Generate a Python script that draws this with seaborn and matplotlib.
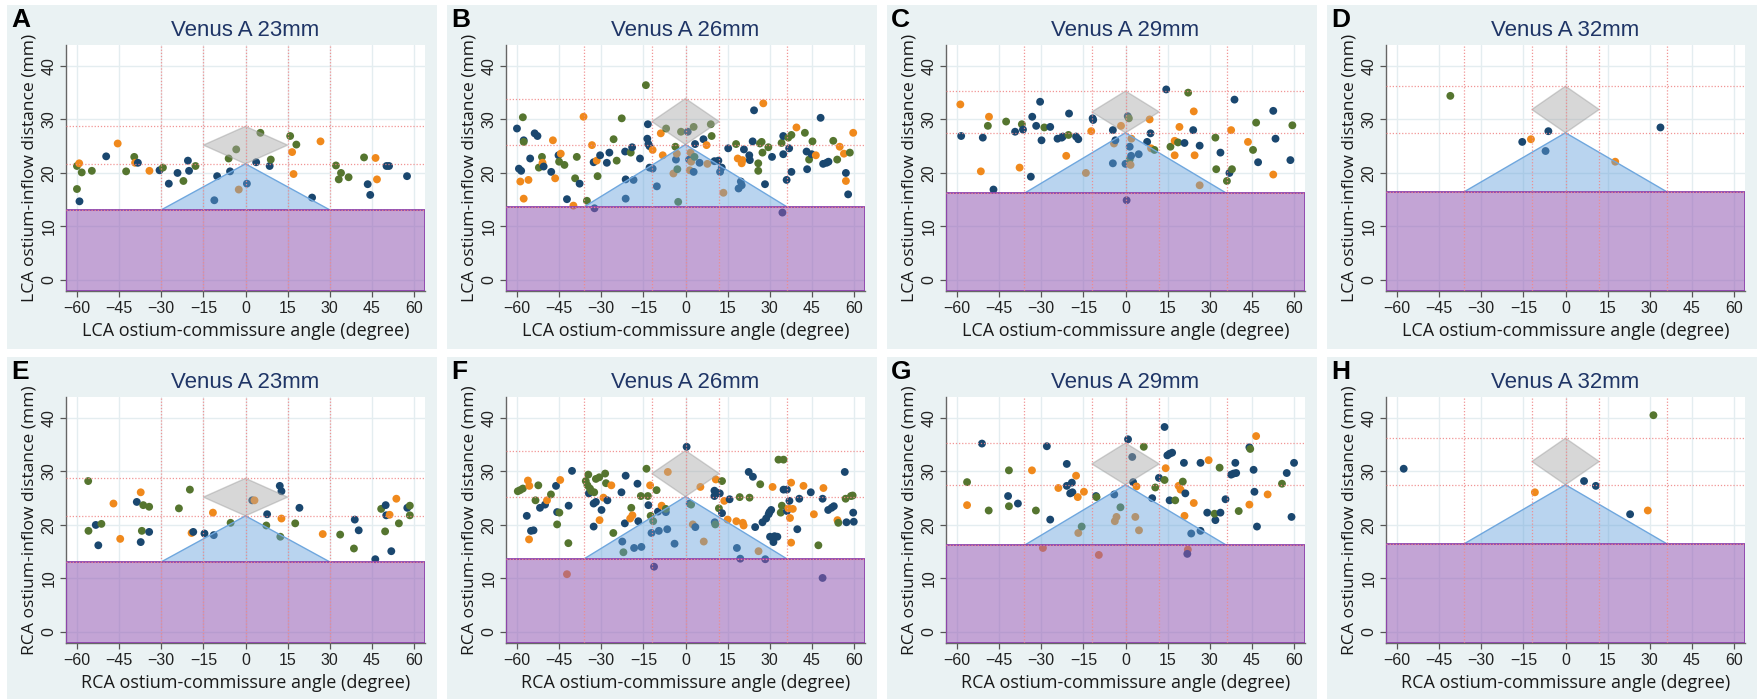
import matplotlib
matplotlib.use("Agg")
import matplotlib.pyplot as plt
from matplotlib.patches import Rectangle
import seaborn as sns
import pandas as pd

# Device geometry per Venus A size (threshold heights in mm, angles in degree)
sizes = ['23mm', '26mm', '29mm', '32mm']
base_h = [13.1, 13.7, 16.2, 16.5]
apex_h = [21.7, 25.3, 27.5, 27.5]
top_h = [28.7, 33.9, 35.3, 36.2]
outer_deg = [30, 36, 36, 36]
inner_deg = [15, 12, 12, 12]

# point groups: n = navy, o = orange, g = green
palette = {'n': '#1a476f', 'o': '#f0891c', 'g': '#55752f'}

# ---- LCA panels ----
A_x = [-60, -60, -59.2, -59.1, -58.3, -54.7, -49.6, -45.5, -42.5, -39.6, -39.3, -38.3, -34.2, -30.6, -29.4,
       -27.3, -24.2, -22.1, -20.5, -20.1, -17.8, -11.1, -10.1, -6.0, -5.5, -3.3, -2.4, 0.5, 3.8, 5.3, 8.6, 9.0,
       15.9, 16.6, 17.1, 18.1, 23.7, 26.7, 32.2, 33.2, 34.0, 36.7, 42.2, 43.5, 44.4, 46.3, 46.8, 50.2, 51.1, 57.5]
A_y = [17.0, 21.3, 21.8, 14.7, 20.1, 20.4, 23.1, 25.5, 20.3, 23.0, 21.9, 21.9, 20.4, 20.5, 21.0, 18.0, 20.0,
       18.5, 22.3, 20.4, 21.3, 14.9, 19.4, 22.7, 20.3, 24.4, 16.9, 18.0, 22.0, 27.5, 21.3, 22.5, 26.9, 23.9,
       19.8, 25.3, 15.4, 25.9, 21.4, 18.8, 20.0, 19.2, 22.9, 17.9, 15.9, 22.8, 18.8, 21.3, 21.3, 19.4]
A_c = "ggong gnogg onong nngnn gnngn gonng nggoo gnogg gggnn oonnn"

B_x = [-60, -57.9, -59.3, -58.5, -58.8, -57.6, -57.6, -57.6, -55.9, -55.3, -53.7, -52.7, -52.2, -51.1, -50.9,
       -50.5, -47.8, -47.2, -46.4, -45.2, -45.0, -44.4, -43.1, -42.2, -39.9, -39.3, -38.7, -37.7, -36.3, -35.1,
       -33.3, -32.7, -32.4, -31.6, -31.3, -30.4, -28.0, -27.1, -25.6, -24.5, -22.7, -21.5, -21.3, -21.3, -19.5,
       -19.0, -18.5, -16.2, -14.1, -13.4, -13.6, -13.2, -12.8, -12.8, -11.7, -11.7, -10.2, -8.8, -8.1, -6.9,
       -4.3, -3.6, -3.4, -3.1, -2.9, -2.6, -1.6, 0.8, 1.3, 1.5, 1.8, 2.0, 2.9, 3.2, 2.9, 3.4, 5.0, 6.4, 7.5, 7.8,
       9.0, 9.3, 10.3, 11.7, 12.3, 12.9, 13.5, 15.2, 18.0, 18.6, 18.9, 19.7, 20.0, 20.0, 20.3, 20.8, 22.7, 22.9,
       23.9, 24.4, 25.9, 25.9, 26.5, 27.1, 27.4, 27.7, 28.3, 29.5, 30.8, 34.2, 34.8, 34.8, 34.5, 36.0, 36.6,
       36.9, 37.7, 37.7, 39.5, 42.5, 43.1, 43.3, 44.0, 44.9, 45.2, 46.4, 48.1, 49.0, 50.2, 50.9, 52.6, 54.0,
       54.9, 56.4, 57.1, 57.1, 57.9, 58.5, 59.7]
B_y = [28.3, 30.4, 20.8, 20.4, 18.4, 15.2, 26.1, 25.8, 18.7, 22.7, 27.4, 26.9, 21.0, 23.0, 21.9, 21.2, 20.2,
       26.1, 19.0, 23.3, 22.1, 23.6, 21.5, 15.1, 13.9, 19.0, 23.0, 18.0, 30.5, 14.8, 25.2, 22.0, 13.4, 22.3,
       19.4, 23.3, 21.9, 23.8, 26.3, 22.3, 30.2, 24.0, 18.8, 15.2, 23.8, 24.8, 18.7, 22.7, 36.4, 29.1, 26.4,
       25.4, 25.0, 21.0, 24.3, 20.8, 17.5, 27.4, 23.3, 28.3, 19.9, 24.9, 22.5, 23.6, 20.7, 14.6, 27.7, 27.7,
       22.5, 20.5, 23.8, 22.1, 28.6, 23.0, 20.2, 25.4, 21.9, 26.3, 25.2, 21.7, 29.1, 26.9, 22.2, 22.3, 20.2,
       21.0, 16.3, 24.6, 25.4, 22.7, 17.1, 18.4, 17.7, 21.8, 22.4, 24.4, 23.3, 22.4, 25.9, 31.7, 21.8, 20.4,
       25.5, 25.8, 23.8, 33.0, 17.9, 24.8, 23.0, 25.6, 26.9, 23.5, 12.6, 18.7, 26.6, 24.6, 27.1, 20.2, 28.5,
       27.5, 24.0, 20.7, 22.5, 23.5, 25.9, 23.3, 30.3, 21.7, 21.9, 22.1, 26.0, 22.5, 24.9, 23.6, 20.0, 18.5,
       16.0, 23.8, 27.5]
B_c = ("ngnnoongon nnggonnoon gognoggnog onnognnngg gnnngnnngn nnnnonnoog ognogggnno "
       "ooggnnnnoo ggnnnnongo nnnoonnnnn gggggongng nnnngngnog nngngonnnn ggoonongo")

C_x = [-58.8, -58.5, -51.5, -50.8, -49.0, -48.6, -47.0, -42.5, -39.3, -37.7, -36.9, -36.5, -33.7, -33.2,
       -31.8, -30.4, -29.9, -28.9, -26.8, -24.2, -22.7, -22.3, -21.1, -20.3, -20.1, -17.6, -16.8, -14.1, -12.2,
       -11.7, -11.5, -4.5, -4.5, -4.1, -3.6, -1.6, 0.0, 0.8, 1.2, 1.5, 1.8, 1.5, 2.0, 2.1, 0.4, 4.7, 7.7, 8.6,
       8.9, 9.1, 10.3, 14.5, 16.0, 17.5, 17.5, 18.7, 19.2, 21.0, 22.3, 24.1, 24.3, 24.6, 26.4, 26.4, 32.0, 32.3,
       33.8, 36.1, 37.0, 37.6, 37.9, 38.8, 43.6, 45.4, 46.5, 47.2, 52.6, 52.6, 53.4, 58.7, 59.4]
C_y = [32.8, 26.9, 20.3, 26.6, 28.8, 30.5, 16.9, 29.6, 27.7, 21.0, 29.1, 28.1, 19.3, 30.5, 28.8, 33.3, 26.1,
       28.5, 28.6, 26.4, 26.6, 26.8, 23.2, 27.1, 31.1, 26.8, 26.3, 20.0, 27.8, 30.2, 29.9, 28.0, 21.8, 25.5,
       26.1, 28.8, 21.7, 30.6, 30.2, 22.5, 21.5, 24.9, 23.2, 26.4, 14.9, 23.5, 25.8, 30.0, 27.4, 24.6, 24.3,
       35.6, 24.9, 26.0, 23.3, 25.7, 28.6, 25.6, 35.0, 28.0, 31.5, 23.3, 25.1, 17.7, 26.6, 20.7, 23.8, 18.5,
       20.0, 28.0, 20.7, 33.7, 25.8, 24.3, 29.4, 22.0, 31.6, 19.7, 26.4, 22.4, 28.9]
C_c = "onongongno gnnnnnngnn nnognnnoon nnnononngg onnonnnono gngoogongn oonoggngno gnoggnnonn g"

D_x = [-41.0, -15.4, -12.3, -7.1, -6.1, 17.7, 33.8]
D_y = [34.4, 25.8, 26.3, 24.1, 27.8, 22.1, 28.5]
D_c = "gnonnon"

# ---- RCA panels ----
E_x = [-56.0, -55.9, -53.3, -52.4, -51.3, -47.0, -44.6, -38.7, -37.3, -37.3, -36.9, -36.4, -34.3, -34.3,
       -23.7, -19.8, -19.2, -18.6, -14.6, -11.6, -11.3, -5.3, 2.4, 3.2, 7.4, 7.7, 12.2, 12.8, 12.8, 12.4, 17.7,
       19.2, 27.5, 33.7, 38.6, 38.9, 40.3, 46.2, 48.3, 49.7, 49.9, 50.1, 51.3, 51.9, 53.7, 54.6, 57.6, 58.5, 58.5]
E_y = [28.2, 18.9, 20.0, 16.2, 20.2, 24.0, 17.4, 24.3, 26.1, 16.8, 18.9, 23.7, 23.4, 18.7, 23.1, 26.6, 18.5,
       18.7, 18.4, 22.3, 18.1, 20.4, 24.6, 24.6, 19.9, 22.0, 27.3, 26.3, 21.2, 17.8, 20.3, 23.2, 18.3, 18.2,
       15.6, 21.0, 19.0, 13.6, 23.0, 18.8, 23.7, 21.8, 21.9, 15.1, 24.9, 20.3, 23.2, 23.6, 21.8]
E_c = "ggnngoonon gggnggonno ngnognnnog gnoggnnngg nnonogngg"

F_x = [-59.7, -58.9, -57.9, -56.5, -56.1, -55.6, -55.7, -55.0, -54.1, -53.4, -52.4, -51.8, -50.0, -49.3,
       -47.9, -46.1, -45.7, -44.9, -45.7, -44.6, -42.2, -41.7, -41.6, -40.4, -35.5, -34.9, -34.6, -34.4, -34.0,
       -33.5, -32.7, -32.7, -32.5, -31.9, -31.9, -30.7, -30.6, -29.9, -29.2, -28.6, -28.3, -27.8, -26.4, -25.7,
       -22.8, -22.5, -22.1, -21.6, -21.3, -19.7, -19.3, -18.9, -18.3, -17.1, -16.8, -15.9, -15.7, -13.9, -13.4,
       -13.2, -12.6, -12.4, -12.1, -11.5, -11.2, -10.3, -9.8, -9.5, -8.5, -7.0, -7.0, -6.5, -6.3, -3.9, 0.4,
       1.5, 2.0, 2.6, 3.5, 5.3, 6.5, 10.3, 10.3, 10.4, 10.6, 10.8, 11.5, 12.2, 11.9, 13.0, 13.0, 13.8, 15.0,
       15.7, 18.1, 18.3, 19.3, 19.5, 20.4, 20.7, 22.5, 22.8, 24.0, 24.8, 26.0, 26.6, 27.4, 28.4, 28.7, 29.6,
       29.9, 30.5, 31.0, 30.1, 31.3, 31.7, 32.7, 33.1, 34.9, 34.3, 33.9, 34.9, 36.1, 36.1, 36.6, 37.0, 37.2,
       37.6, 37.6, 38.2, 39.8, 40.5, 42.0, 44.6, 45.7, 47.3, 48.8, 48.8, 49.1, 50.8, 52.0, 52.8, 54.1, 54.4,
       56.7, 57.0, 57.3, 58.9, 59.5, 59.7, 59.9]
F_y = [26.3, 26.5, 26.8, 21.7, 28.3, 27.3, 17.3, 18.9, 19.0, 24.6, 27.4, 23.2, 23.8, 24.6, 25.7, 27.3, 22.4,
       22.3, 20.1, 28.4, 10.8, 16.6, 23.6, 30.1, 28.2, 27.4, 29.4, 25.9, 26.8, 26.3, 24.0, 19.7, 26.1, 24.3,
       28.6, 28.9, 20.9, 22.8, 25.1, 29.6, 27.8, 24.6, 27.4, 18.5, 26.1, 16.9, 14.9, 20.3, 29.2, 21.2, 23.2,
       21.8, 15.7, 27.7, 20.7, 25.4, 15.9, 30.5, 25.4, 23.7, 27.4, 21.7, 18.5, 20.7, 12.2, 26.5, 22.5, 18.9,
       23.6, 22.4, 23.0, 19.2, 29.9, 16.5, 34.6, 24.0, 23.8, 20.1, 19.6, 27.1, 16.9, 26.4, 25.4, 20.5, 20.1,
       28.5, 26.0, 25.9, 23.1, 28.2, 22.2, 24.5, 21.0, 24.8, 20.7, 15.7, 25.2, 13.7, 20.4, 19.9, 29.9, 25.1,
       29.0, 19.6, 15.1, 27.6, 20.5, 13.6, 21.2, 22.0, 22.4, 22.8, 27.1, 17.8, 16.8, 17.9, 17.8, 32.2, 32.2,
       23.6, 22.3, 26.6, 26.6, 22.6, 23.1, 24.5, 21.3, 27.9, 16.7, 23.0, 19.2, 24.9, 27.3, 26.1, 22.0, 16.2,
       24.9, 10.1, 26.9, 22.8, 23.2, 23.5, 20.9, 20.4, 29.9, 24.9, 20.5, 25.4, 25.5, 22.3, 20.6]
F_c = ("gggnooonng gnnognnggo ognngggngg nngnggonog gnognngnno gonnngnggn ogngngnnon "
       "gnonnngono onnngonngg noonongnoo ngnnognnnn nnonnnnggg gnnnonoooo nnonognnon nnogngnggnn")

G_x = [-56.4, -56.4, -51.1, -48.7, -41.8, -41.5, -41.5, -38.3, -33.3, -31.9, -29.4, -28.0, -26.8, -23.9,
       -20.9, -20.9, -19.7, -19.1, -18.9, -17.6, -17.0, -16.8, -15.6, -14.8, -10.5, -10.3, -9.5, -4.0, -3.8,
       -3.2, -1.8, 0.9, 2.4, 2.7, 3.9, 3.5, 4.8, 6.5, 9.5, 10.6, 11.9, 13.9, 14.3, 13.9, 14.9, 15.7, 16.6, 15.7,
       17.7, 18.9, 19.6, 20.4, 20.8, 21.0, 21.3, 22.2, 22.0, 23.4, 24.3, 26.7, 26.7, 29.1, 29.6, 32.0, 31.7,
       33.5, 33.8, 35.6, 37.6, 38.5, 39.1, 39.4, 40.3, 44.1, 44.1, 44.4, 45.6, 45.9, 46.5, 46.8, 50.6, 55.7,
       57.4, 59.1, 60.0]
G_y = [28.0, 23.7, 35.2, 22.7, 25.4, 30.2, 23.5, 24.0, 30.2, 22.7, 15.7, 34.7, 21.0, 26.9, 31.4, 27.3, 25.9,
       27.9, 26.1, 29.2, 25.2, 18.5, 19.7, 26.2, 25.4, 25.2, 14.4, 25.7, 20.7, 21.5, 23.3, 36.0, 32.7, 28.0,
       27.2, 21.5, 19.0, 34.6, 25.0, 27.0, 28.8, 38.3, 30.6, 28.4, 33.0, 33.3, 33.5, 24.6, 24.6, 27.3, 26.6,
       28.1, 31.6, 21.7, 25.9, 15.4, 14.6, 18.4, 24.1, 31.6, 18.9, 22.3, 32.1, 20.9, 22.1, 30.7, 22.3, 24.8,
       29.4, 29.6, 31.6, 29.7, 22.6, 23.8, 34.5, 34.2, 30.3, 26.2, 36.6, 19.7, 25.7, 27.7, 29.7, 21.5, 31.6]
G_c = "gongnggnog onnonnnnno oogongonoo gnnnooogng nnognnnngo ognononnon nnonggnnnn nngongnnon ognnn"

H_x = [-57.6, -10.9, 6.6, 10.8, 23.0, 29.3, 31.3]
H_y = [30.5, 26.1, 28.2, 27.3, 22.0, 22.7, 40.5]
H_c = "nonnnog"

panels = [
    ('A', 'LCA', 0, 0, A_x, A_y, A_c), ('B', 'LCA', 0, 1, B_x, B_y, B_c),
    ('C', 'LCA', 0, 2, C_x, C_y, C_c), ('D', 'LCA', 0, 3, D_x, D_y, D_c),
    ('E', 'RCA', 1, 0, E_x, E_y, E_c), ('F', 'RCA', 1, 1, F_x, F_y, F_c),
    ('G', 'RCA', 1, 2, G_x, G_y, G_c), ('H', 'RCA', 1, 3, H_x, H_y, H_c),
]

sns.set_theme(style="white")
plt.rcParams['font.family'] = ['Liberation Sans', 'DejaVu Sans']

W, H = 1762, 700
fig = plt.figure(figsize=(W / 100, H / 100), dpi=100)

bg = '#eaf2f3'
red = '#f08a8a'
for letter, art, row, col, xs, ys, cs in panels:
    px = 7 + 440 * col
    ptop = 5 if row == 0 else 357
    pbot = 349 if row == 0 else 699
    fig.add_artist(Rectangle((px / W, 1 - pbot / H), 430 / W, (pbot - ptop) / H,
                             transform=fig.transFigure, facecolor=bg, edgecolor='none', zorder=0))

    ax_top = 45 if row == 0 else 397
    ax = fig.add_axes([(px + 59) / W, 1 - (ax_top + 246) / H, 359 / W, 246 / H])
    ax.set_facecolor('white')

    df = pd.DataFrame({'angle': xs, 'dist': ys, 'grp': list(cs.replace(' ', ''))})
    sns.scatterplot(data=df, x='angle', y='dist', hue='grp', palette=palette, s=32,
                    edgecolor='none', linewidth=0, legend=False, ax=ax, zorder=2)

    xlo, xhi, ylo, yhi = -63.9, 63.9, -2.05, 43.9
    b, a, t = base_h[col], apex_h[col], top_h[col]
    o, i = outer_deg[col], inner_deg[col]
    m = (a + t) / 2

    ax.axhspan(ylo, b, facecolor='#925ab4', alpha=0.55, edgecolor='none', zorder=3)
    ax.add_patch(Rectangle((xlo, ylo), xhi - xlo, b - ylo, fill=False, edgecolor='#8e44ad',
                           lw=1.3, zorder=3.3))
    ax.fill([-o, o, 0], [b, b, a], facecolor='#64a0dc', alpha=0.45, edgecolor='none', zorder=3.1)
    ax.plot([-o, 0, o], [b, a, b], color='#6fa7de', lw=1.0, zorder=3.1)
    ax.fill([-i, 0, i, 0], [m, t, m, a], facecolor='#a8a8a8', alpha=0.45, edgecolor='#9c9c9c',
            lw=1.0, zorder=3.2)

    for v in [-o, -i, 0, i, o]:
        ax.axvline(v, color=red, lw=0.9, ls=(0, (1, 1.5)), alpha=0.9, zorder=4)
    for h in [b, a, t]:
        ax.axhline(h, color=red, lw=0.9, ls=(0, (1, 1.5)), alpha=0.9, zorder=4)

    ax.set_xlim(xlo, xhi)
    ax.set_ylim(ylo, yhi)
    ax.set_xticks(range(-60, 61, 15))
    ax.set_yticks(range(0, 41, 10))
    ax.set_yticklabels([str(v) for v in range(0, 41, 10)], rotation=90, va='center')
    ax.grid(True, color='#e4edf0', lw=1.0)
    ax.set_axisbelow(True)
    ax.tick_params(axis='both', which='both', direction='out', length=4, width=0.9,
                   color='#555555', labelsize=11.5, labelcolor='#222222', pad=3,
                   bottom=True, left=True)
    for s in ['top', 'right']:
        ax.spines[s].set_visible(False)
    for s in ['left', 'bottom']:
        ax.spines[s].set_color('#666666')
        ax.spines[s].set_linewidth(1.0)

    ax.set_xlabel(f'{art} ostium-commissure angle (degree)', fontsize=13, family='Open Sans',
                  color='#1a1a1a')
    ax.set_ylabel(f'{art} ostium-inflow distance (mm)', fontsize=12.6, family='Open Sans',
                  color='#1a1a1a')
    ax.xaxis.set_label_coords(0.5, -0.125)
    ax.yaxis.set_label_coords(-0.08, 0.5)

    title_y = 30 if row == 0 else 382
    fig.text((px + 59 + 179.5) / W, 1 - title_y / H, f'Venus A {sizes[col]}', ha='center',
             va='center', fontsize=16, color='#1f3566')
    fig.text((px + 4) / W, 1 - (title_y - 10) / H, letter, ha='left', va='center',
             fontsize=19, fontweight='bold', color='black')

fig.savefig('out.png', dpi=100, facecolor='white')
